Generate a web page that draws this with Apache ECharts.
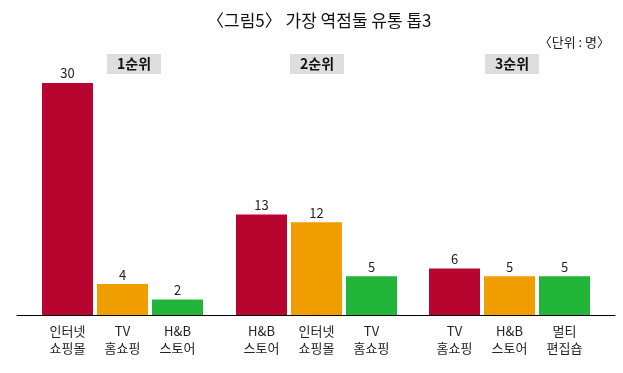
<!DOCTYPE html>
<html>
<head>
<meta charset="utf-8">
<script src="https://cdn.jsdelivr.net/npm/echarts@6/dist/echarts.min.js"></script>
<style>
  html, body { margin: 0; padding: 0; background: #ffffff; }
  #chart { width: 623px; height: 373px; }
</style>
</head>
<body>
<div id="chart"></div>
<script>
const chartTitle = '〈그림5〉 가장 역점둘 유통 톱3';
const unitText = '〈단위 : 명〉';
const rankGroups = ['1순위', '2순위', '3순위'];
const group1Names = ['인터넷\n쇼핑몰', 'TV\n홈쇼핑', 'H&B\n스토어'];
const group1Values = [30, 4, 2];
const group2Names = ['H&B\n스토어', '인터넷\n쇼핑몰', 'TV\n홈쇼핑'];
const group2Values = [13, 12, 5];
const group3Names = ['TV\n홈쇼핑', 'H&B\n스토어', '멀티\n편집숍'];
const group3Values = [6, 5, 5];
const rankColors = ['#b70530', '#f09d00', '#22b53a'];

const FONT = '"Noto Sans CJK KR", "Noto Sans", sans-serif';
const groupNames = [group1Names, group2Names, group3Names];
const groupValues = [group1Values, group2Values, group3Values];
const gridLefts = [40, 234, 427];
const headerLefts = [107, 290, 485];
const gridTop = 83, gridBottom = 58, gridWidth = 165;

const grids = gridLefts.map(l => ({ left: l, width: gridWidth, top: gridTop, bottom: gridBottom, containLabel: false }));
grids.push({ left: 17, right: 8, top: gridTop, bottom: gridBottom });

const xAxes = groupNames.map((names, i) => ({
  type: 'category', gridIndex: i, data: names,
  axisLine: { show: false }, axisTick: { show: false },
  axisLabel: { interval: 0, fontSize: 13, lineHeight: 17, margin: 8, color: '#222', fontFamily: FONT }
}));
xAxes.push({
  type: 'category', gridIndex: 3, data: [''],
  axisLine: { show: true, lineStyle: { color: '#000', width: 1 } },
  axisTick: { show: false }, axisLabel: { show: false }
});

const yAxes = [0, 1, 2, 3].map(i => ({
  type: 'value', gridIndex: i, min: 0, max: 30, show: false, splitLine: { show: false }
}));

const series = groupValues.map((vals, i) => ({
  type: 'bar', xAxisIndex: i, yAxisIndex: i, barWidth: 51, z: 3,
  data: vals.map((v, j) => ({ value: v, itemStyle: { color: rankColors[j] } })),
  label: { show: true, position: 'top', distance: 3, fontSize: 13, color: '#222', fontFamily: FONT }
}));

const titles = [
  { text: chartTitle, left: 202, top: 7, textStyle: { fontSize: 17, fontWeight: 'normal', color: '#111', fontFamily: FONT } },
  { text: unitText, right: 8, top: 31, textStyle: { fontSize: 13, fontWeight: 'normal', color: '#222', fontFamily: FONT } }
];
rankGroups.forEach((g, i) => {
  titles.push({
    text: g, left: headerLefts[i], top: 54, padding: [3, 10],
    backgroundColor: '#dedede',
    textStyle: { fontSize: 14, lineHeight: 14, fontWeight: 'bold', color: '#111', fontFamily: FONT }
  });
});

const chart = echarts.init(document.getElementById('chart'), null, { renderer: 'canvas' });
chart.setOption({
  backgroundColor: '#ffffff',
  animation: false,
  title: titles,
  grid: grids,
  xAxis: xAxes,
  yAxis: yAxes,
  series: series
});
</script>
</body>
</html>
